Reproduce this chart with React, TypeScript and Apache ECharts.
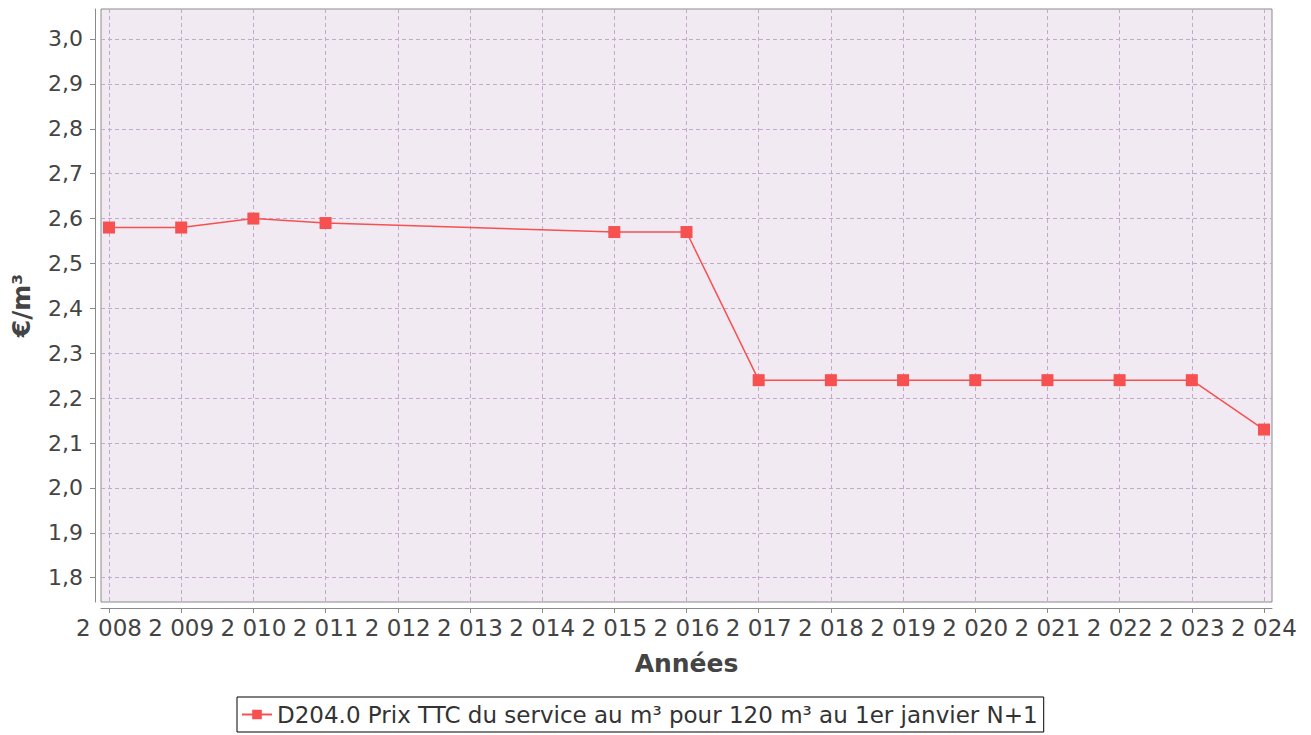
import React, { useEffect, useRef } from "react";
import * as echarts from "echarts";

const years = [2008, 2009, 2010, 2011, 2015, 2016, 2017, 2018, 2019, 2020, 2021, 2022, 2023, 2024];
const prices = [2.58, 2.58, 2.6, 2.59, 2.57, 2.57, 2.24, 2.24, 2.24, 2.24, 2.24, 2.24, 2.24, 2.13];
const xTicks = [2008, 2009, 2010, 2011, 2012, 2013, 2014, 2015, 2016, 2017, 2018, 2019, 2020, 2021, 2022, 2023, 2024];
const yTicks = [1.8, 1.9, 2.0, 2.1, 2.2, 2.3, 2.4, 2.5, 2.6, 2.7, 2.8, 2.9, 3.0];
const seriesName = "D204.0 Prix TTC du service au m³ pour 120 m³ au 1er janvier N+1";
const xName = "Années";
const yName = "€/m³";

const FONT = "DejaVu Sans";

export default function App() {
  const ref = useRef<HTMLDivElement>(null);
  useEffect(() => {
    if (!ref.current) return;
    const chart = echarts.init(ref.current, null, { renderer: "svg" });
    const gridColor = "#c2aac9";
    chart.setOption({
      animation: false,
      backgroundColor: "#ffffff",
      textStyle: { fontFamily: FONT },
      grid: {
        left: 101,
        top: 9,
        right: 39,
        bottom: 133,
        show: true,
        backgroundColor: "#f2eaf3",
        borderColor: "#8a8a8a",
        borderWidth: 1,
        containLabel: false,
        outerBoundsMode: "none",
      },
      legend: {
        show: true,
        left: 237,
        top: 697,
        padding: [6, 6, 6, 4],
        borderColor: "#000000",
        borderWidth: 1,
        itemWidth: 30,
        itemHeight: 12,
        itemGap: 5,
        textStyle: { fontFamily: FONT, fontSize: 23, color: "#333333" },
        data: [seriesName],
      },
      xAxis: {
        type: "value",
        min: 2007.889,
        max: 2024.111,
        offset: 6,
        name: xName,
        nameLocation: "middle",
        nameGap: 43,
        nameTextStyle: { fontFamily: FONT, fontSize: 25, fontWeight: "bold", color: "#444444" },
        axisLine: { show: true, onZero: false, lineStyle: { color: "#8a8a8a", width: 1 } },
        axisTick: { show: true, length: 5, lineStyle: { color: "#8a8a8a" }, customValues: xTicks },
        axisLabel: {
          show: true,
          customValues: xTicks,
          fontFamily: FONT,
          fontSize: 23,
          color: "#444444",
          margin: 8,
          hideOverlap: false,
          formatter: (v: number) => {
            const s = String(Math.round(v));
            return s.slice(0, 1) + " " + s.slice(1);
          },
        },
        splitLine: { show: true, customValues: xTicks, lineStyle: { color: gridColor, type: [4, 3], width: 1 } },
      },
      yAxis: {
        type: "value",
        min: 1.7459,
        max: 3.0668,
        offset: 6,
        name: yName,
        nameLocation: "middle",
        nameGap: 61,
        nameRotate: 90,
        nameTextStyle: { fontFamily: FONT, fontSize: 25, fontWeight: "bold", color: "#444444" },
        axisLine: { show: true, onZero: false, lineStyle: { color: "#8a8a8a", width: 1 } },
        axisTick: { show: true, length: 5, lineStyle: { color: "#8a8a8a" }, customValues: yTicks },
        axisLabel: {
          show: true,
          customValues: yTicks,
          fontFamily: FONT,
          fontSize: 22,
          color: "#444444",
          margin: 12,
          formatter: (v: number) => v.toFixed(1).replace(".", ","),
        },
        splitLine: { show: true, customValues: yTicks, lineStyle: { color: gridColor, type: [4, 3], width: 1 } },
      },
      series: [
        {
          name: seriesName,
          type: "line",
          data: years.map((y, i) => [y, prices[i]]),
          symbol: "rect",
          symbolSize: 12,
          itemStyle: { color: "#f65050" },
          lineStyle: { color: "#f65050", width: 1.5 },
        },
      ],
    });
    return () => chart.dispose();
  }, []);
  return (
    <div
      ref={ref}
      style={{ position: "absolute", left: 0, top: 0, width: 1311, height: 735 }}
    />
  );
}
